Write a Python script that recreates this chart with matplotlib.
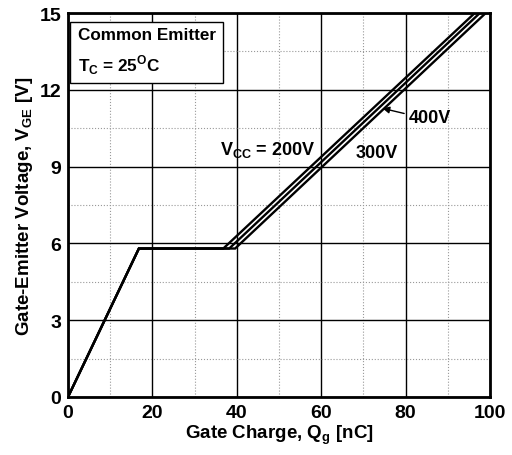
import matplotlib
matplotlib.use("Agg")
import matplotlib.pyplot as plt
from matplotlib.ticker import MultipleLocator

plt.rcParams['font.family'] = ['Liberation Sans', 'DejaVu Sans']
plt.rcParams['font.weight'] = 'bold'
plt.rcParams['mathtext.fontset'] = 'custom'
plt.rcParams['mathtext.rm'] = 'Liberation Sans:bold'
plt.rcParams['mathtext.bf'] = 'Liberation Sans:bold'

# Data: gate charge curves (Qg [nC], VGE [V])
q_200 = [0, 16.8, 36.8, 96.4]
v_200 = [0, 5.8, 5.8, 15.0]
q_400 = [0, 16.8, 38.2, 97.6]
v_400 = [0, 5.8, 5.8, 15.0]
q_300 = [0, 16.8, 39.6, 99.0]
v_300 = [0, 5.8, 5.8, 15.0]

x_ticks = [0, 20, 40, 60, 80, 100]
y_ticks = [0, 3, 6, 9, 12, 15]

fig = plt.figure(figsize=(5.12, 4.56), dpi=100)
ax = fig.add_axes([68/512, 1-398/456, (490-68)/512, (398-14)/456])

ax.set_xlim(0, 100)
ax.set_ylim(0, 15)
ax.set_xticks(x_ticks)
ax.set_yticks(y_ticks)
ax.xaxis.set_minor_locator(MultipleLocator(10))
ax.yaxis.set_minor_locator(MultipleLocator(1.5))
ax.grid(which='major', color='black', linewidth=1.0, linestyle='-')
ax.grid(which='minor', color='#999999', linewidth=0.8, linestyle=':')
ax.tick_params(which='both', length=0, labelsize=14, pad=5)
for s in ax.spines.values():
    s.set_linewidth(2.0)
ax.set_axisbelow(True)

for q, v in [(q_200, v_200), (q_400, v_400), (q_300, v_300)]:
    ax.plot(q, v, color='black', linewidth=1.7, solid_joinstyle='miter')

ax.set_xlabel('Gate Charge, Q$_\\mathregular{g}$ [nC]', fontsize=13.5, fontweight='bold', labelpad=1)
ax.set_ylabel('Gate-Emitter Voltage, V$_\\mathregular{GE}$ [V]', fontsize=13.5, fontweight='bold', labelpad=3)

ax.text(47.2, 9.7, 'V$_\\mathregular{CC}$ = 200V', fontsize=13, fontweight='bold', ha='center', va='center')
ax.text(85.8, 10.9, '400V', fontsize=13, fontweight='bold', ha='center', va='center')
ax.text(73.2, 9.55, '300V', fontsize=13, fontweight='bold', ha='center', va='center')
ax.annotate('', xy=(73.9, 11.3), xytext=(80.3, 11.05),
            arrowprops=dict(arrowstyle='-|>', color='black', lw=1.0, mutation_scale=10))

ax.text(2.3, 14.45, 'Common Emitter\nT$_\\mathregular{C}$ = 25$^\\mathregular{O}$C', fontsize=12.3,
        fontweight='bold', ha='left', va='top', linespacing=1.55,
        bbox=dict(boxstyle='square,pad=0.45', facecolor='white', edgecolor='black', linewidth=1.0))

fig.savefig('out.png', dpi=100)
